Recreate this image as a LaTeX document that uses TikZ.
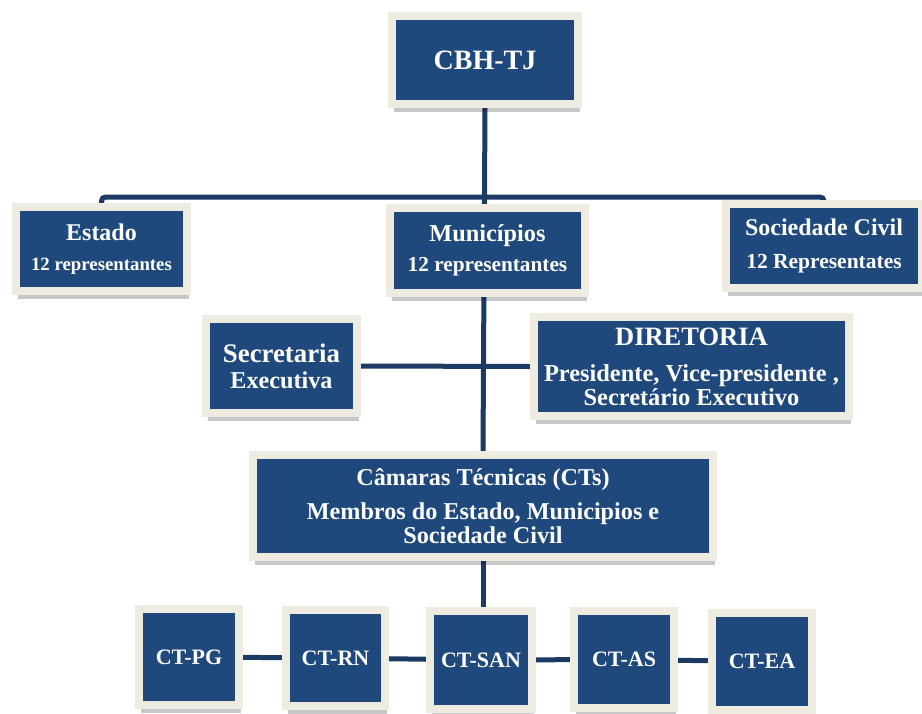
\documentclass[tikz,border=0pt]{standalone}
\usepackage{fontspec}
\setmainfont{Liberation Serif}
\usetikzlibrary{shadows,backgrounds}
\definecolor{boxblue}{HTML}{1F497D}
\definecolor{cream}{HTML}{EEECE1}
\definecolor{linecol}{HTML}{1B3A64}
\newcommand\fsz[2]{\fontsize{#1}{#2}\selectfont}
\begin{document}
\begin{tikzpicture}[x=1pt,y=-1pt,
  bx/.style={draw=cream, line width=8pt, fill=boxblue, text=white,
    align=center, inner sep=0pt,
    drop shadow={shadow xshift=1.5pt, shadow yshift=-8pt, opacity=0.22, fill=black}},
  conn/.style={draw=linecol, line width=5pt}]
\useasboundingbox (0,0) rectangle (922,713);
% boxes
\node[bx, font={\bfseries\fsz{28}{30}}, minimum width=186pt, minimum height=88pt] (cbh) at (485,60) {CBH-TJ};
\node[bx, font={\bfseries\fsz{18.8}{30}}, minimum width=171pt, minimum height=84pt] (est) at (101.5,249) {\fsz{24}{30}Estado\\\fsz{18.8}{30}12 representantes};
\node[bx, font={\bfseries\fsz{21.3}{30}}, minimum width=195pt, minimum height=85pt] (mun) at (487.5,250.5) {\fsz{24.3}{30}Municípios\\\fsz{21.3}{30}12 representantes};
\node[bx, font={\bfseries\fsz{21.5}{33}}, minimum width=196pt, minimum height=84pt] (soc) at (824,246) {\fsz{24}{33}Sociedade Civil\\\fsz{21.5}{33}12 Representates};
\node[bx, font={\bfseries\fsz{24}{26}}, minimum width=151pt, minimum height=94pt] (sec) at (281.5,366) {\fsz{26.8}{26}Secretaria\\\fsz{24.2}{26}Executiva};
\node[bx, font={\bfseries\fsz{24.4}{24}}, minimum width=315pt, minimum height=99pt] (dir) at (691.5,366.5) {\fsz{26.5}{24}DIRETORIA\\[12pt]\fsz{24.4}{24}Presidente, Vice-presidente ,\\\fsz{24.4}{24}Secretário Executivo};
\node[bx, font={\bfseries\fsz{24.2}{24}}, minimum width=460pt, minimum height=102pt] (cam) at (483,506) {\fsz{24.2}{24}Câmaras Técnicas (CTs)\\[10pt]\fsz{24.2}{24}Membros do Estado, Municipios e\\\fsz{24.2}{24}Sociedade Civil};
\node[bx, font={\bfseries\fsz{22}{24}}, minimum width=100pt, minimum height=96pt] (pg) at (189,657) {CT-PG};
\node[bx, font={\bfseries\fsz{22}{24}}, minimum width=99pt, minimum height=96pt] (rn) at (335.5,658) {CT-RN};
\node[bx, font={\bfseries\fsz{22}{24}}, minimum width=102pt, minimum height=98pt] (san) at (481,660) {CT-SAN};
\node[bx, font={\bfseries\fsz{22}{24}}, minimum width=100pt, minimum height=97pt] (as) at (624,659.5) {CT-AS};
\node[bx, font={\bfseries\fsz{22}{24}}, minimum width=100pt, minimum height=97pt] (ea) at (762,661.5) {CT-EA};
\coordinate (hbar) at (485,197);
% connectors
\begin{scope}[on background layer]
\fill[white] (0,0) rectangle (922,713);
\draw[conn] (cbh.south) -- (cam.north);
\draw[conn, rounded corners=4pt] (est.north) |- (hbar) -| (soc.north);
\draw[conn] (sec.east) -- (dir.west);
\draw[conn] (cam.south) -- (cam.south |- san.north);
\draw[conn] (pg) -- (rn) -- (san) -- (as) -- (ea);
\end{scope}
\end{tikzpicture}
\end{document}
